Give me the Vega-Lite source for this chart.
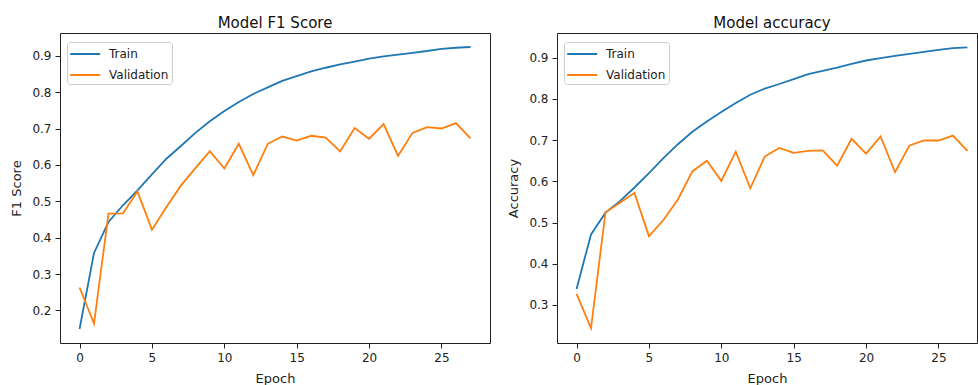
{
  "$schema": "https://vega.github.io/schema/vega-lite/v6.json",
  "padding": {"left": 10, "top": 15, "right": 0, "bottom": 0},
  "background": "white",
  "bounds": "flush",
  "spacing": 67,
  "config": {
    "font": "DejaVu Sans",
    "view": {"stroke": "#222", "strokeWidth": 1},
    "axis": {
      "grid": false,
      "domain": false,
      "tickColor": "#222",
      "tickSize": 5,
      "labelPadding": 4,
      "labelFontSize": 12,
      "labelColor": "#222",
      "titleFontSize": 13,
      "titleFontWeight": "normal",
      "titleColor": "#222",
      "labelFont": "DejaVu Sans",
      "titleFont": "DejaVu Sans"
    },
    "title": {"fontSize": 15, "fontWeight": "normal", "color": "#111", "font": "DejaVu Sans", "offset": 2},
    "legend": {
      "orient": "none",
      "legendX": 7,
      "legendY": 9,
      "title": null,
      "strokeColor": "#cccccc",
      "fillColor": "rgba(255,255,255,0.85)",
      "cornerRadius": 3,
      "padding": 3,
      "rowPadding": 6,
      "symbolType": "M-1.1,0H2.65",
      "symbolSize": 256,
      "symbolStrokeWidth": 2,
      "symbolFillColor": "transparent",
      "labelOffset": 21,
      "labelFontSize": 12,
      "labelColor": "#222",
      "labelFont": "DejaVu Sans"
    }
  },
  "data": {"values": [
    {"epoch": 0, "series": "Train", "f1": 0.149, "acc": 0.339},
    {"epoch": 1, "series": "Train", "f1": 0.358, "acc": 0.471},
    {"epoch": 2, "series": "Train", "f1": 0.443, "acc": 0.524},
    {"epoch": 3, "series": "Train", "f1": 0.489, "acc": 0.552},
    {"epoch": 4, "series": "Train", "f1": 0.530, "acc": 0.585},
    {"epoch": 5, "series": "Train", "f1": 0.574, "acc": 0.620},
    {"epoch": 6, "series": "Train", "f1": 0.617, "acc": 0.656},
    {"epoch": 7, "series": "Train", "f1": 0.652, "acc": 0.690},
    {"epoch": 8, "series": "Train", "f1": 0.688, "acc": 0.720},
    {"epoch": 9, "series": "Train", "f1": 0.720, "acc": 0.745},
    {"epoch": 10, "series": "Train", "f1": 0.748, "acc": 0.768},
    {"epoch": 11, "series": "Train", "f1": 0.773, "acc": 0.790},
    {"epoch": 12, "series": "Train", "f1": 0.795, "acc": 0.810},
    {"epoch": 13, "series": "Train", "f1": 0.813, "acc": 0.825},
    {"epoch": 14, "series": "Train", "f1": 0.831, "acc": 0.836},
    {"epoch": 15, "series": "Train", "f1": 0.844, "acc": 0.848},
    {"epoch": 16, "series": "Train", "f1": 0.857, "acc": 0.860},
    {"epoch": 17, "series": "Train", "f1": 0.867, "acc": 0.868},
    {"epoch": 18, "series": "Train", "f1": 0.876, "acc": 0.876},
    {"epoch": 19, "series": "Train", "f1": 0.884, "acc": 0.885},
    {"epoch": 20, "series": "Train", "f1": 0.892, "acc": 0.893},
    {"epoch": 21, "series": "Train", "f1": 0.898, "acc": 0.899},
    {"epoch": 22, "series": "Train", "f1": 0.903, "acc": 0.904},
    {"epoch": 23, "series": "Train", "f1": 0.908, "acc": 0.909},
    {"epoch": 24, "series": "Train", "f1": 0.913, "acc": 0.914},
    {"epoch": 25, "series": "Train", "f1": 0.919, "acc": 0.919},
    {"epoch": 26, "series": "Train", "f1": 0.922, "acc": 0.923},
    {"epoch": 27, "series": "Train", "f1": 0.924, "acc": 0.925},
    {"epoch": 0, "series": "Validation", "f1": 0.263, "acc": 0.327},
    {"epoch": 1, "series": "Validation", "f1": 0.164, "acc": 0.244},
    {"epoch": 2, "series": "Validation", "f1": 0.466, "acc": 0.525},
    {"epoch": 3, "series": "Validation", "f1": 0.467, "acc": 0.548},
    {"epoch": 4, "series": "Validation", "f1": 0.527, "acc": 0.572},
    {"epoch": 5, "series": "Validation", "f1": 0.422, "acc": 0.467},
    {"epoch": 6, "series": "Validation", "f1": 0.484, "acc": 0.506},
    {"epoch": 7, "series": "Validation", "f1": 0.543, "acc": 0.556},
    {"epoch": 8, "series": "Validation", "f1": 0.591, "acc": 0.624},
    {"epoch": 9, "series": "Validation", "f1": 0.638, "acc": 0.650},
    {"epoch": 10, "series": "Validation", "f1": 0.590, "acc": 0.601},
    {"epoch": 11, "series": "Validation", "f1": 0.658, "acc": 0.672},
    {"epoch": 12, "series": "Validation", "f1": 0.572, "acc": 0.583},
    {"epoch": 13, "series": "Validation", "f1": 0.658, "acc": 0.660},
    {"epoch": 14, "series": "Validation", "f1": 0.678, "acc": 0.681},
    {"epoch": 15, "series": "Validation", "f1": 0.667, "acc": 0.669},
    {"epoch": 16, "series": "Validation", "f1": 0.680, "acc": 0.674},
    {"epoch": 17, "series": "Validation", "f1": 0.675, "acc": 0.675},
    {"epoch": 18, "series": "Validation", "f1": 0.637, "acc": 0.638},
    {"epoch": 19, "series": "Validation", "f1": 0.701, "acc": 0.703},
    {"epoch": 20, "series": "Validation", "f1": 0.672, "acc": 0.667},
    {"epoch": 21, "series": "Validation", "f1": 0.712, "acc": 0.709},
    {"epoch": 22, "series": "Validation", "f1": 0.625, "acc": 0.622},
    {"epoch": 23, "series": "Validation", "f1": 0.688, "acc": 0.687},
    {"epoch": 24, "series": "Validation", "f1": 0.704, "acc": 0.699},
    {"epoch": 25, "series": "Validation", "f1": 0.700, "acc": 0.699},
    {"epoch": 26, "series": "Validation", "f1": 0.715, "acc": 0.711},
    {"epoch": 27, "series": "Validation", "f1": 0.673, "acc": 0.674}
  ]},
  "resolve": {"scale": {"color": "independent"}, "legend": {"color": "independent"}},
  "hconcat": [
    {
      "width": 430,
      "height": 310,
      "title": {"text": "Model F1 Score"},
      "mark": {"type": "line", "strokeWidth": 1.8, "clip": true},
      "encoding": {
        "x": {"field": "epoch", "type": "quantitative", "title": "Epoch",
              "scale": {"domain": [-1.35, 28.35], "nice": false, "zero": false},
              "axis": {"values": [0, 5, 10, 15, 20, 25], "format": "d", "titlePadding": 9}},
        "y": {"field": "f1", "type": "quantitative", "title": "F1 Score",
              "scale": {"domain": [0.1105, 0.9625], "nice": false, "zero": false},
              "axis": {"values": [0.2, 0.3, 0.4, 0.5, 0.6, 0.7, 0.8, 0.9], "format": ".1f", "titlePadding": 8}},
        "color": {"field": "series", "type": "nominal",
                  "scale": {"domain": ["Train", "Validation"], "range": ["#1f77b4", "#ff7f0e"]},
                  "legend": {"legendX": 7, "legendY": 9}}
      }
    },
    {
      "width": 420,
      "height": 310,
      "title": {"text": "Model accuracy", "dx": 5},
      "mark": {"type": "line", "strokeWidth": 1.8, "clip": true},
      "encoding": {
        "x": {"field": "epoch", "type": "quantitative", "title": "Epoch",
              "scale": {"domain": [-1.35, 27.66], "nice": false, "zero": false},
              "axis": {"values": [0, 5, 10, 15, 20, 25], "format": "d", "titlePadding": 9}},
        "y": {"field": "acc", "type": "quantitative", "title": "Accuracy",
              "scale": {"domain": [0.2078, 0.9597], "nice": false, "zero": false},
              "axis": {"values": [0.3, 0.4, 0.5, 0.6, 0.7, 0.8, 0.9], "format": ".1f", "titlePadding": 8}},
        "color": {"field": "series", "type": "nominal",
                  "scale": {"domain": ["Train", "Validation"], "range": ["#1f77b4", "#ff7f0e"]},
                  "legend": {"legendX": 7, "legendY": 9}}
      }
    }
  ]
}
